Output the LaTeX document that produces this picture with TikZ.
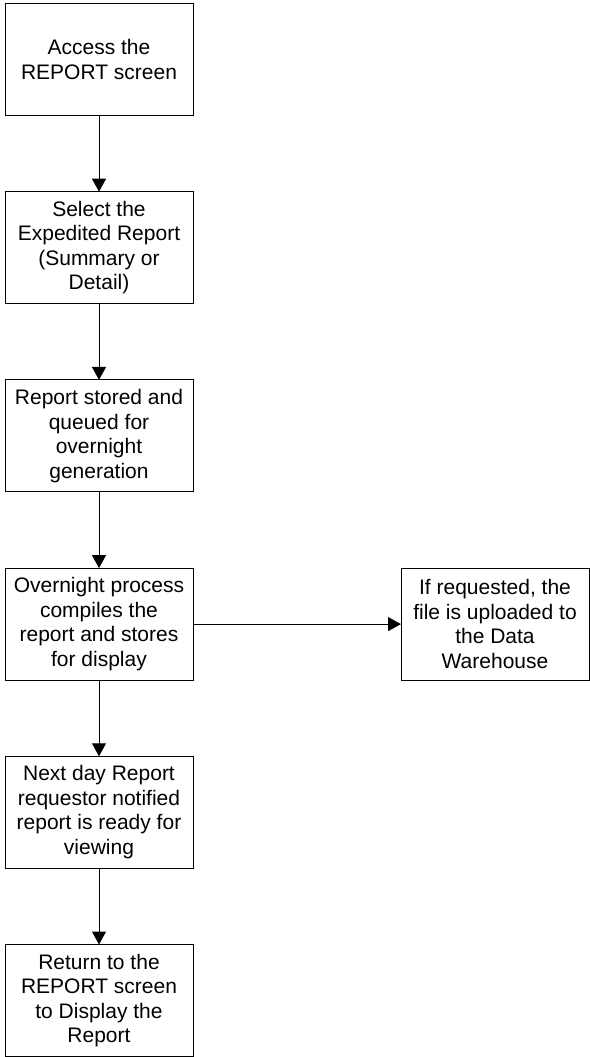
\documentclass[tikz,border=0pt]{standalone}
\usepackage{fontspec}
\setmainfont{Liberation Sans}
\usetikzlibrary{arrows.meta,positioning}

\begin{document}
\begin{tikzpicture}[x=1pt,y=-1pt,
    stepbox/.style={draw,line width=1pt,minimum width=188pt,minimum height=112pt,
        inner sep=2pt,outer sep=0pt,align=center,font=\fontsize{21}{24.5}\selectfont},
    flow/.style={line width=1pt,-{Triangle[length=13pt,width=14pt]}}]
    \useasboundingbox (0,0) rectangle (589,1057);

    % Main column
    \node[stepbox] (access) at (99,59.5) {Access the\\REPORT screen};
    \node[stepbox,below=76.2pt of access] (select) {Select the\\Expedited Report\\(Summary or\\Detail)};
    \node[stepbox,below=76.2pt of select] (queue) {Report stored and\\queued for\\overnight\\generation};
    \node[stepbox,below=76.2pt of queue] (compile) {Overnight process\\compiles the\\report and stores\\for display};
    \node[stepbox,below=76.2pt of compile] (notify) {Next day Report\\requestor notified\\report is ready for\\viewing};
    \node[stepbox,below=76.2pt of notify] (display) {Return to the\\REPORT screen\\to Display the\\Report};

    % Side branch
    \node[stepbox,right=208pt of compile] (upload) {If requested, the\\file is uploaded to\\the Data\\Warehouse};

    % Connectors
    \draw[flow] (access) -- (select);
    \draw[flow] (select) -- (queue);
    \draw[flow] (queue) -- (compile);
    \draw[flow] (compile) -- (notify);
    \draw[flow] (notify) -- (display);
    \draw[flow] (compile) -- (upload);
\end{tikzpicture}
\end{document}
